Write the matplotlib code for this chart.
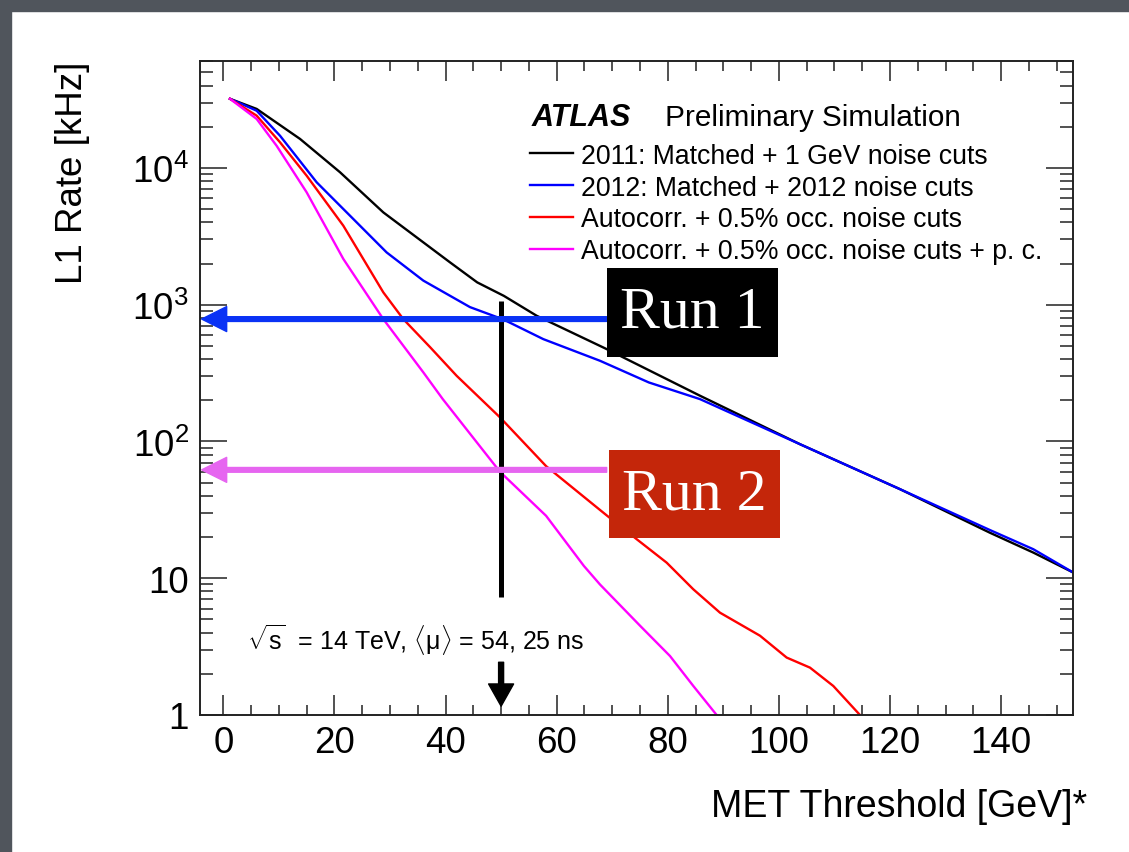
import numpy as np
import matplotlib.pyplot as plt
from matplotlib.patches import Rectangle
from matplotlib.ticker import FixedLocator, FixedFormatter, MultipleLocator, NullFormatter

plt.rcParams['font.family'] = ['Liberation Sans', 'DejaVu Sans']
plt.rcParams['mathtext.fontset'] = 'custom'
plt.rcParams['mathtext.rm'] = 'Liberation Sans'
plt.rcParams['mathtext.it'] = 'Liberation Sans:italic'
plt.rcParams['mathtext.bf'] = 'Liberation Sans:bold'

# MET threshold [GeV] vs L1 rate [kHz]
met_2011 = [1.2, 6.0, 13.8, 21.0, 28.8, 40.8, 45.7, 50.5, 56.4, 68.7, 85.8, 103.8, 121.8, 138.0, 145.8, 153.0]
rate_2011 = [32000, 27000, 16300, 9300, 4730, 2040, 1456, 1160, 830, 480, 216, 95.5, 44.8, 21.5, 15.4, 11.0]

met_2012 = [1.2, 6.0, 10.2, 16.8, 23.4, 29.4, 36.0, 44.4, 50.4, 57.6, 67.8, 76.6, 85.8, 103.8, 121.8, 138.0, 145.8, 153.0]
rate_2012 = [32000, 26200, 17200, 7850, 4230, 2410, 1500, 960, 780, 560, 389, 270, 204, 95.5, 44.8, 22.5, 16.3, 11.0]

met_auto = [1.2, 6.0, 10.2, 15.0, 21.6, 28.8, 32.4, 37.2, 42.0, 49.8, 58.1, 69.1, 74.4, 79.8, 84.6, 89.4,
            96.6, 101.4, 105.6, 109.8, 114.6]
rate_auto = [32000, 24100, 15400, 8770, 3780, 1230, 784, 490, 302, 150, 66, 28.6, 19.3, 13.0, 8.3, 5.6,
             3.8, 2.63, 2.22, 1.63, 1.0]

met_auto_pc = [1.2, 6.0, 9.6, 15.0, 21.6, 28.8, 36.0, 39.5, 49.8, 58.1, 64.9, 67.8, 75.0, 80.4, 84.6, 88.8]
rate_auto_pc = [32000, 22800, 14500, 6630, 2160, 784, 320, 204, 60, 28.6, 12.3, 9.0, 4.5, 2.7, 1.63, 1.0]

series_labels = ["2011: Matched + 1 GeV noise cuts",
                 "2012: Matched + 2012 noise cuts",
                 "Autocorr. + 0.5% occ. noise cuts",
                 "Autocorr. + 0.5% occ. noise cuts + p. c."]

threshold = 50
run1_rate = 785
run2_rate = 62

y_ticks = [1, 10, 100, 1000, 10000]
y_tick_labels = ["1", "10", "$10^{2}$", "$10^{3}$", "$10^{4}$"]
x_ticks = [0, 20, 40, 60, 80, 100, 120, 140]

W, H = 1129, 853
fig = plt.figure(figsize=(W / 100, H / 100), dpi=100)
fig.patch.set_facecolor('white')
# grey slide frame on top/left
fig.patches.append(Rectangle((0, 1 - 12 / H), 1, 12 / H, transform=fig.transFigure,
                             color='#50555c', zorder=0))
fig.patches.append(Rectangle((0, 0), 11 / W, 1, transform=fig.transFigure,
                             color='#50555c', zorder=0))

ax = fig.add_axes([200 / W, (H - 716) / H, 873.3 / W, 654 / H])
ax.set_yscale('log')
ax.set_xlim(-4.2, 153)
ax.set_ylim(1, 6.05e4)

lw = 1.7
ax.plot(met_2011, rate_2011, color='black', lw=lw, label=series_labels[0])
ax.plot(met_2012, rate_2012, color='#0000ff', lw=lw, label=series_labels[1])
ax.plot(met_auto, rate_auto, color='#ff0000', lw=lw, label=series_labels[2])
ax.plot(met_auto_pc, rate_auto_pc, color='#ff00ff', lw=lw, label=series_labels[3])

# axes styling (ROOT look)
for sp in ax.spines.values():
    sp.set_linewidth(1.4)
    sp.set_color('#222222')
ax.xaxis.set_major_locator(FixedLocator(x_ticks))
ax.xaxis.set_minor_locator(MultipleLocator(5))
ax.yaxis.set_major_locator(FixedLocator(y_ticks))
ax.yaxis.set_major_formatter(FixedFormatter(y_tick_labels))
minor_y = [m * 10 ** e for e in range(0, 5) for m in range(2, 10)]
ax.yaxis.set_minor_locator(FixedLocator(minor_y))
ax.yaxis.set_minor_formatter(NullFormatter())
ax.tick_params(axis='x', which='major', direction='in', length=14.4, width=1.1,
               top=True, labelsize=26.5, pad=7, color='#222222')
ax.tick_params(axis='x', which='minor', direction='in', length=7.2, width=1.1, top=True, color='#222222')
ax.tick_params(axis='y', which='major', direction='in', length=19.4, width=1.1,
               right=True, labelsize=26.5, pad=8, color='#222222')
ax.tick_params(axis='y', which='minor', direction='in', length=9.4, width=1.1, right=True, color='#222222')

ax.set_ylabel("L1 Rate [kHz]", fontsize=26.5, loc='top')
ax.yaxis.set_label_coords(-0.126, 1.0)
ax.set_xlabel("MET Threshold [GeV]*", fontsize=27, loc='right')
ax.xaxis.set_label_coords(1.0157, -0.112)

# ATLAS label and legend
ax.text(0.380, 0.914, "ATLAS", transform=ax.transAxes, fontsize=22, fontweight='bold',
        fontstyle='italic', va='center', ha='left')
ax.text(0.533, 0.914, "Preliminary Simulation", transform=ax.transAxes, fontsize=21.4,
        va='center', ha='left')
ax.legend(loc='upper left', bbox_to_anchor=(0.378, 0.875), frameon=False, fontsize=19.2,
          handlelength=1.6, handletextpad=0.3, labelspacing=0.22, borderpad=0,
          borderaxespad=0)

ax.text(0.054, 0.116, r"$\sqrt{\mathrm{s}}$  = 14 TeV, $\langle\mathrm{\mu}\rangle$ = 54, 25 ns",
        transform=ax.transAxes, fontsize=18, va='center', ha='left')

# threshold marker
ax.plot([threshold, threshold], [1068, 7.26], color='black', lw=3.6, solid_capstyle='butt')
ax.annotate("", xy=(threshold, 1.16), xytext=(threshold, 2.43),
            arrowprops=dict(width=3.6, headwidth=18, headlength=16, color='black', shrink=0))

# rate arrows
ax.annotate("", xy=(-3.9, run1_rate), xytext=(69.0, run1_rate),
            arrowprops=dict(width=3.4, headwidth=18, headlength=18, color='#0a32f5', shrink=0))
ax.annotate("", xy=(-3.9, run2_rate), xytext=(69.0, run2_rate),
            arrowprops=dict(width=3.4, headwidth=18, headlength=18, color='#e665f0', shrink=0))

# Run boxes
ax.add_patch(Rectangle((0.466, 0.548), 0.196, 0.135, transform=ax.transAxes,
                       facecolor='black', edgecolor='none', zorder=5))
ax.text(0.564, 0.6155, "Run 1", transform=ax.transAxes, fontsize=43, color='white',
        family='Liberation Serif', ha='center', va='center', zorder=6)
ax.add_patch(Rectangle((0.468, 0.270), 0.196, 0.135, transform=ax.transAxes,
                       facecolor='#c4260a', edgecolor='none', zorder=5))
ax.text(0.566, 0.3375, "Run 2", transform=ax.transAxes, fontsize=43, color='white',
        family='Liberation Serif', ha='center', va='center', zorder=6)

fig.savefig("out.png", dpi=100)
